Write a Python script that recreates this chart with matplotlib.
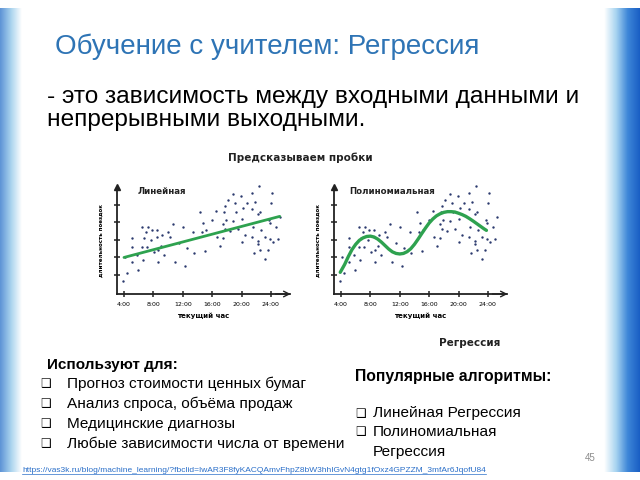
import numpy as np
import matplotlib
matplotlib.use("Agg")
import matplotlib.pyplot as plt
from matplotlib.colors import LinearSegmentedColormap

# ---------------- data ----------------
hours = [3.9, 4.45, 4.14, 5.05, 5.05, 5.05, 5.81, 5.95, 6.41, 6.41, 6.54, 6.76, 6.95, 7.09,
         7.31, 7.63, 7.85, 8.08, 8.45, 8.53, 8.67, 8.99, 8.59, 9.21, 9.48, 10.03, 10.26,
         10.63, 10.94, 11.52, 11.99, 12.3, 12.61,
         22.41, 18.87, 19.88, 21.37, 24.1, 18.11, 19.1, 20.69, 21.82, 24.0, 17.74, 20.23,
         21.37, 14.34, 16.52, 17.61, 19.24, 22.5, 22.27, 14.79, 15.93, 17.88, 18.87, 20.01,
         23.77, 23.86, 25.22, 13.35, 14.57, 15.16, 17.51, 17.74, 18.42, 19.47, 21.59, 22.6,
         24.68, 16.61, 17.51, 20.46, 21.37, 23.18, 23.86, 24.91, 20.01, 22.27, 24.23, 17.06,
         22.19, 22.5, 23.55, 15.02, 13.52, 21.69, 23.18]
durations = [0.67, 1.13, 2.01, 1.76, 2.62, 3.13, 2.14, 1.29, 2.62, 3.73, 1.86, 3.13, 3.44, 2.62,
             3.73, 3.0, 3.57, 2.33, 3.57, 3.19, 2.43, 2.67, 1.76, 3.30, 2.14, 3.47, 3.19,
             3.91, 1.76, 2.81, 3.76, 1.51, 2.56,
             6.09, 5.63, 5.53, 5.70, 5.70, 5.29, 5.10, 5.10, 5.19, 5.13, 4.94, 4.81,
             4.75, 4.58, 4.67, 4.62, 4.58, 4.58, 4.47, 3.99, 4.14, 4.14, 4.09, 4.18,
             4.14, 3.99, 4.33, 3.44, 3.47, 3.57, 3.90, 3.63, 3.51, 3.61, 3.76, 3.57,
             3.73, 3.15, 3.10, 3.29, 3.19, 3.19, 3.06, 3.06, 2.90, 2.96, 2.90, 2.66,
             2.77, 2.43, 2.43, 2.39, 2.24, 2.27, 1.90]

lin_hours = [4.0, 25.2]
lin_values = [2.0, 4.35]

poly_hours = [3.9, 4.5, 5.0, 5.5, 6.0, 6.5, 7.0, 7.5, 8.0, 8.5, 9.0, 9.5, 10.0, 10.5, 11.0,
              11.5, 12.0, 12.5, 13.0, 13.5, 14.0, 14.5, 15.0, 15.5, 16.0, 16.5, 17.0, 17.5,
              18.0, 18.5, 19.0, 19.5, 20.0, 20.5, 21.0, 21.5, 22.0, 22.5, 23.0, 23.5, 23.8]
poly_values = [1.15, 1.6, 2.05, 2.45, 2.75, 2.98, 3.12, 3.2, 3.22, 3.17, 3.05, 2.88, 2.68,
               2.48, 2.32, 2.23, 2.2, 2.23, 2.33, 2.5, 2.75, 3.05, 3.37, 3.68, 3.97, 4.2,
               4.38, 4.5, 4.58, 4.62, 4.62, 4.6, 4.53, 4.45, 4.35, 4.22, 4.08, 3.93, 3.78,
               3.63, 3.55]

xtick_hours = [4, 8, 12, 16, 20, 24]
xtick_labels = ["4:00", "8:00", "12:00", "16:00", "20:00", "24:00"]
ytick_values = [1, 2, 3, 4, 5]

uses = ["Прогноз стоимости ценных бумаг", "Анализ спроса, объёма продаж",
        "Медицинские диагнозы", "Любые зависимости числа от времени"]
algos = ["Линейная Регрессия", "Полиномиальная", "Регрессия"]

# ---------------- figure ----------------
W, H = 640, 480
fig = plt.figure(figsize=(6.4, 4.8), dpi=100)
fig.patch.set_facecolor("white")

def fx(x):
    return x / W

def fy(y):
    return 1 - y / H

# decorative side stripes
bg = fig.add_axes([0, 0, 1, 1], zorder=-5)
bg.set_xlim(0, W)
bg.set_ylim(H, 0)
bg.axis("off")
g = np.linspace(0, 1, 64)[None, :]
cm_left = LinearSegmentedColormap.from_list("l", ["#5d93d6", "#a9d3ee", "#ffffff"])
cm_right = LinearSegmentedColormap.from_list("r", ["#ffffff", "#a8d4f0", "#3d86d8", "#1a5fc4"])
bg.imshow(g, cmap=cm_left, extent=(0, 22, 472, 8), aspect="auto")
bg.imshow(g, cmap=cm_right, extent=(604, 640, 472, 8), aspect="auto")

SANS = ["Liberation Sans", "DejaVu Sans"]
HAND = ["DejaVu Sans"]

fig.text(fx(55), fy(47), "Обучение с учителем: Регрессия", fontsize=20,
         color="#2e74b5", family=SANS, va="center", ha="left")
fig.text(fx(47), fy(97), "- это зависимость между входными данными и", fontsize=17.6,
         color="black", family=SANS, va="center", ha="left")
fig.text(fx(47), fy(120), "непрерывными выходными.", fontsize=17.6,
         color="black", family=SANS, va="center", ha="left")

fig.text(fx(300), fy(158), "Предсказываем пробки", fontsize=7.5, fontweight="bold",
         family=HAND, ha="center", va="center", color="#222222")
fig.text(fx(470), fy(343), "Регрессия", fontsize=7.5, fontweight="bold",
         family=HAND, ha="center", va="center", color="#222222")

DOT = "#2c3a6e"
GREEN = "#2ea24f"

def make_chart(left_px, name, name_x, curve_x, curve_y, lw):
    ax = fig.add_axes([fx(left_px), fy(294), 173 / W, 107 / H])
    ax.set_xlim(3.05, 26.6)
    ax.set_ylim(-0.09, 6.03)
    ax.patch.set_alpha(0)
    for s in ["top", "right"]:
        ax.spines[s].set_visible(False)
    for s in ["left", "bottom"]:
        ax.spines[s].set_linewidth(1.3)
        ax.spines[s].set_color("#222222")
    ax.scatter(hours, durations, s=3, color=DOT, zorder=3, linewidths=0, clip_on=False)
    ax.plot(curve_x, curve_y, color=GREEN, lw=lw, solid_capstyle="round", zorder=4)
    ax.set_xticks(xtick_hours)
    ax.set_xticklabels(xtick_labels, fontsize=4.5, family=HAND)
    ax.set_yticks(ytick_values)
    ax.set_yticklabels([])
    ax.tick_params(axis="both", direction="inout", length=5, width=1.1, color="#222222", pad=3)
    ax.plot(0, 1, "^", color="#222222", markersize=5, transform=ax.transAxes, clip_on=False)
    ax.annotate("", xy=(1.02, 0), xytext=(0.9, 0), xycoords="axes fraction",
                arrowprops=dict(arrowstyle="->", color="#222222", lw=1.0))
    ax.text(name_x, 0.96, name, transform=ax.transAxes, fontsize=6.2, fontweight="bold",
            family=HAND, va="center", ha="left", color="#222222")
    ax.set_xlabel("текущий час", fontsize=5, fontweight="bold", family=HAND, labelpad=4)
    ax.set_ylabel("длительность поездок", fontsize=4, fontweight="bold", family=HAND, labelpad=4)
    return ax

make_chart(117, "Линейная", 0.12, lin_hours, lin_values, 2.0)
make_chart(334, "Полиномиальная", 0.09, poly_hours, poly_values, 2.4)

# lists
fig.text(fx(47), fy(365), "Используют для:", fontsize=11, fontweight="bold",
         family=SANS, va="center", ha="left")
for i, t in enumerate(uses):
    y = 384 + i * 19.8
    fig.text(fx(40), fy(y), "❑", fontsize=8.5, family=["DejaVu Sans"], va="center", ha="left")
    fig.text(fx(67), fy(y), t, fontsize=11.1, family=SANS, va="center", ha="left")

fig.text(fx(355), fy(377), "Популярные алгоритмы:", fontsize=11.3, fontweight="bold",
         family=SANS, va="center", ha="left")
fig.text(fx(355), fy(413), "❑", fontsize=8.5, family=["DejaVu Sans"], va="center", ha="left")
fig.text(fx(373), fy(413), algos[0], fontsize=11.1, family=SANS, va="center", ha="left")
fig.text(fx(355), fy(432), "❑", fontsize=8.5, family=["DejaVu Sans"], va="center", ha="left")
fig.text(fx(373), fy(432), algos[1], fontsize=11.1, family=SANS, va="center", ha="left")
fig.text(fx(373), fy(452), algos[2], fontsize=11.1, family=SANS, va="center", ha="left")

fig.text(fx(585), fy(458), "45", fontsize=7, color="#8c8c8c", family=SANS, va="center")

url = ("https://vas3k.ru/blog/machine_learning/?fbclid=IwAR3F8fyKACQAmvFhpZ8bW3hhIGvN4gtg1fOxz4"
       "GPZZM_3mfAr6JqofU84")
ut = fig.text(fx(22), fy(470), url, fontsize=6.0, color="#2a6fc9", family=SANS,
              va="center", ha="left")
fig.canvas.draw()
bb = ut.get_window_extent()
bg.plot([bb.x0, bb.x1], [H - bb.y0 + 0.5, H - bb.y0 + 0.5], color="#2a6fc9", lw=0.5)

fig.savefig("out.png", dpi=100)
